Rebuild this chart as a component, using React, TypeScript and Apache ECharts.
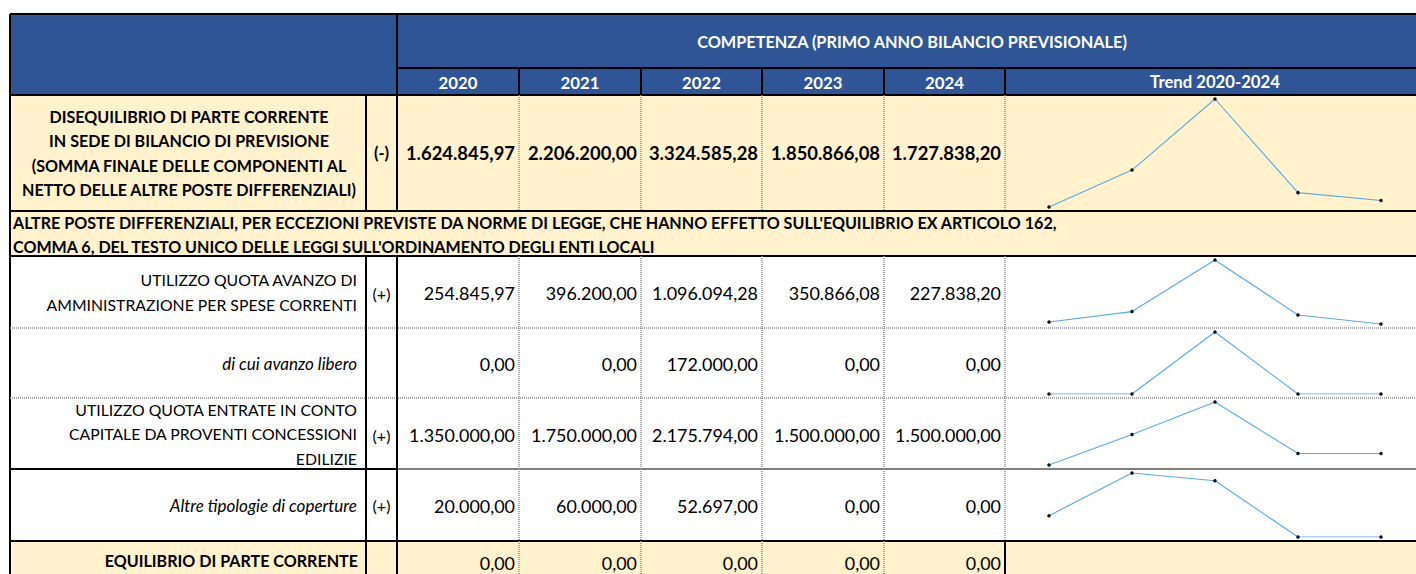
import React, { useEffect, useRef } from "react";
import * as echarts from "echarts";

const years = ["2020", "2021", "2022", "2023", "2024"];
const disequilibrio = [1624845.97, 2206200.0, 3324585.28, 1850866.08, 1727838.2];
const avanzoAmministrazione = [254845.97, 396200.0, 1096094.28, 350866.08, 227838.2];
const avanzoLibero = [0, 0, 172000.0, 0, 0];
const concessioniEdilizie = [1350000.0, 1750000.0, 2175794.0, 1500000.0, 1500000.0];
const altreCoperture = [20000.0, 60000.0, 52697.0, 0, 0];
const equilibrio = [0, 0, 0, 0, 0];

const headerTitle = "COMPETENZA (PRIMO ANNO BILANCIO PREVISIONALE)";
const trendTitle = "Trend 2020-2024";
const row1Label = [
  "DISEQUILIBRIO DI PARTE CORRENTE",
  "IN SEDE DI BILANCIO DI PREVISIONE",
  "(SOMMA FINALE DELLE COMPONENTI AL",
  "NETTO DELLE ALTRE POSTE DIFFERENZIALI)",
];
const row2Label = [
  "ALTRE POSTE DIFFERENZIALI, PER ECCEZIONI PREVISTE DA NORME DI LEGGE, CHE HANNO EFFETTO SULL'EQUILIBRIO EX ARTICOLO 162,",
  "COMMA 6, DEL TESTO UNICO DELLE LEGGI SULL'ORDINAMENTO DEGLI ENTI LOCALI",
];
const row3Label = ["UTILIZZO QUOTA AVANZO DI", "AMMINISTRAZIONE PER SPESE CORRENTI"];
const row4Label = ["di cui avanzo libero"];
const row5Label = ["UTILIZZO QUOTA ENTRATE IN CONTO", "CAPITALE DA PROVENTI CONCESSIONI", "EDILIZIE"];
const row6Label = ["Altre tipologie di coperture"];
const row7Label = ["EQUILIBRIO DI PARTE CORRENTE"];

function fmt(v: number): string {
  const neg = v < 0;
  const s = Math.abs(v).toFixed(2);
  const [int, dec] = s.split(".");
  let out = "";
  for (let i = 0; i < int.length; i++) {
    if (i > 0 && (int.length - i) % 3 === 0) out += ".";
    out += int[i];
  }
  return (neg ? "-" : "") + out + "," + dec;
}

const FONT = "Lato, 'Open Sans', sans-serif";
const BLUE = "#2F5597";
const CREAM = "#FFF2CC";

export default function App() {
  const ref = useRef<HTMLDivElement>(null);
  useEffect(() => {
    if (!ref.current) return;
    const chart = echarts.init(ref.current, null, { renderer: "svg" });

    const X0 = 10;
    const XS = 366;
    const XV = [397, 519, 641, 762, 884, 1005];
    const XR = 1420;
    const YT = 14;
    const YH2 = 68;
    const YHB = 95;
    const RY = [95, 211, 256, 328, 398, 469, 541, 590];

    const g: any[] = [];
    const rect = (x: number, y: number, w: number, h: number, fill: string) =>
      g.push({ type: "rect", z: 0, shape: { x, y, width: w, height: h }, style: { fill } });
    const line = (x1: number, y1: number, x2: number, y2: number, kind: "black" | "dot" | "grey") => {
      const style: any =
        kind === "black"
          ? { stroke: "#000", lineWidth: 2 }
          : kind === "grey"
          ? { stroke: "#7f7f7f", lineWidth: 2 }
          : { stroke: "#8c8c8c", lineWidth: 1.5, lineDash: [1, 1] };
      g.push({ type: "line", z: 20, shape: { x1, y1, x2, y2 }, style });
    };
    const text = (
      t: string,
      x: number,
      y: number,
      align: string,
      opts: { size?: number; weight?: string; fill?: string; italic?: boolean } = {}
    ) =>
      g.push({
        type: "text",
        z: 30,
        x,
        y,
        style: {
          text: t,
          fill: opts.fill || "#000",
          fontSize: opts.size || 15,
          fontWeight: opts.weight || "normal",
          fontStyle: opts.italic ? "italic" : "normal",
          fontFamily: FONT,
          align,
          verticalAlign: "middle",
        },
      });

    // fills
    rect(X0, YT, XR - X0, YHB - YT, BLUE);
    rect(X0, RY[0], XR - X0, RY[2] - RY[0], CREAM);
    rect(X0, RY[2], XR - X0, RY[6] - RY[2], "#FFFFFF");
    rect(X0, RY[6], XR - X0, RY[7] - RY[6], CREAM);

    // header texts
    text(headerTitle, 912, 41, "center", { size: 16.3, weight: "bold", fill: "#fff" });
    years.forEach((y, i) =>
      text(y, (XV[i] + XV[i + 1]) / 2, 82, "center", { size: 16.8, weight: "bold", fill: "#fff" })
    );
    text(trendTitle, 1215, 82, "center", { size: 16.7, weight: "bold", fill: "#fff" });

    // header lines
    line(X0, YT, XR, YT, "black");
    line(X0, YT, X0, RY[7], "black");
    line(XV[0], YT, XV[0], YHB, "black");
    line(XV[0], YH2, XR, YH2, "black");
    for (let i = 1; i <= 5; i++) line(XV[i], YH2, XV[i], YHB, "black");
    line(X0, YHB, XR, YHB, "black");

    // horizontal row borders
    line(X0, RY[1], XR, RY[1], "black");
    line(X0, RY[2], XR, RY[2], "black");
    line(X0, RY[3], XR, RY[3], "dot");
    line(X0, RY[4], XR, RY[4], "dot");
    line(X0, RY[5], XV[0], RY[5], "black");
    line(XV[0], RY[5], XR, RY[5], "grey");
    line(X0, RY[6], XR, RY[6], "black");

    // vertical borders for rows (except row 2)
    const bodyRows = [0, 2, 3, 4, 5, 6];
    bodyRows.forEach((r) => {
      const y1 = RY[r];
      const y2 = RY[r + 1];
      line(XS, y1, XS, y2, "black");
      line(XV[0], y1, XV[0], y2, "black");
      for (let i = 1; i <= 4; i++) line(XV[i], y1, XV[i], y2, "dot");
      line(XV[5], y1, XV[5], y2, r === 6 ? "black" : "dot");
    });

    // row 1
    const LH = 24.5;
    const c1 = (RY[0] + RY[1]) / 2;
    row1Label.forEach((t, i) =>
      text(t, (X0 + XS) / 2 + 1, c1 + (i - 1.5) * LH, "center", { size: 16.1, weight: "bold" })
    );
    text("(-)", (XS + XV[0]) / 2, c1, "center", { size: 16.5, weight: "bold" });
    disequilibrio.forEach((v, i) => text(fmt(v), XV[i + 1] - 4, c1, "right", { size: 18.4, weight: "bold" }));

    // row 2
    row2Label.forEach((t, i) => text(t, X0 + 3, 222 + i * 24, "left", { size: 16.1, weight: "bold" }));

    // generic regular rows
    const regRow = (r: number, labels: string[], sign: string, vals: number[], italic: boolean, signDy = 0) => {
      const c = (RY[r] + RY[r + 1]) / 2;
      labels.forEach((t, i) =>
        text(t, XS - 9, c + (i - (labels.length - 1) / 2) * LH, "right", { size: italic ? 17 : 15.8, italic })
      );
      if (sign) text(sign, (XS + XV[0]) / 2, c + signDy, "center", { size: 16 });
      vals.forEach((v, i) => text(fmt(v), XV[i + 1] - 4, c + 1, "right", { size: 17.9 }));
    };
    regRow(2, row3Label, "(+)", avanzoAmministrazione, false, 1);
    regRow(3, row4Label, "", avanzoLibero, true);
    regRow(4, row5Label, "(+)", concessioniEdilizie, false, 2);
    regRow(5, row6Label, "(+)", altreCoperture, true);
    // row 7
    const c7 = 560;
    text(row7Label[0], XS - 8, c7, "right", { size: 16.1, weight: "bold" });
    equilibrio.forEach((v, i) => text(fmt(v), XV[i + 1] - 4, c7 + 3, "right", { size: 17.9 }));

    // sparklines
    const sparkData = [
      { row: 0, data: disequilibrio },
      { row: 2, data: avanzoAmministrazione },
      { row: 3, data: avanzoLibero },
      { row: 4, data: concessioniEdilizie },
      { row: 5, data: altreCoperture },
    ];
    const grids: any[] = [];
    const xAxes: any[] = [];
    const yAxes: any[] = [];
    const series: any[] = [];
    sparkData.forEach((s, i) => {
      const top = RY[s.row] + 4;
      const height = RY[s.row + 1] - RY[s.row] - 8;
      grids.push({ left: 1049, top, width: 332, height, containLabel: false });
      xAxes.push({
        type: "category",
        gridIndex: i,
        data: years,
        boundaryGap: false,
        show: false,
      });
      yAxes.push({ type: "value", gridIndex: i, min: "dataMin", max: "dataMax", show: false, scale: true });
      series.push({
        type: "line",
        xAxisIndex: i,
        yAxisIndex: i,
        data: s.data,
        z: 10,
        symbol: "circle",
        symbolSize: 3.5,
        showSymbol: true,
        itemStyle: { color: "#111" },
        lineStyle: { color: "#5AAAE6", width: 1.1 },
        silent: true,
      });
    });

    chart.setOption({
      animation: false,
      backgroundColor: "#fff",
      grid: grids,
      xAxis: xAxes,
      yAxis: yAxes,
      series,
      graphic: { elements: g },
    });
    return () => chart.dispose();
  }, []);
  return (
    <div
      ref={ref}
      style={{ position: "absolute", left: 0, top: 0, width: 1416, height: 574 }}
    />
  );
}
